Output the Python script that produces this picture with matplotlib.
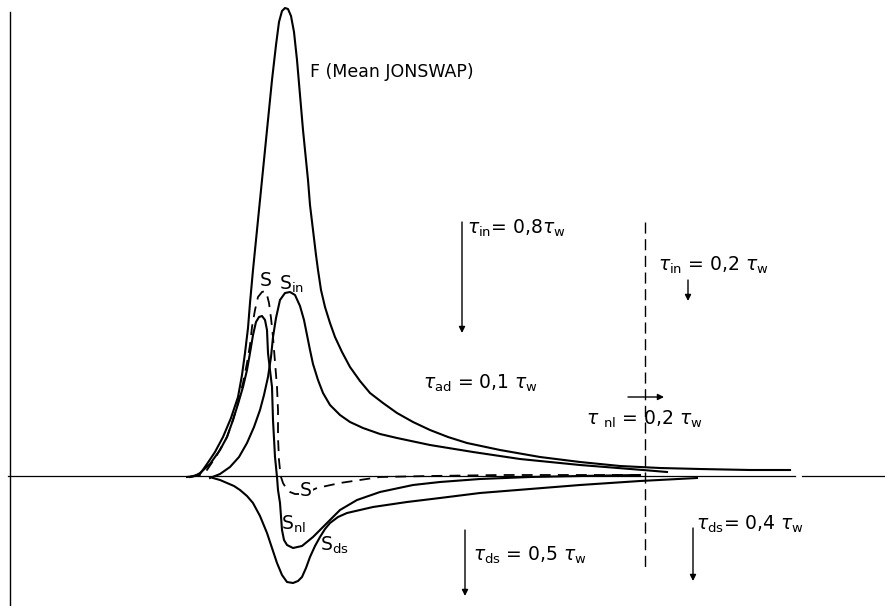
import matplotlib
matplotlib.use("Agg")
import matplotlib.pyplot as plt

f_x = [190, 200, 207, 215, 223, 231, 238, 242, 245, 248, 250, 253, 256, 260, 264, 268, 272, 276,
       279, 282, 285, 288, 291, 294, 297, 300, 303, 306, 308, 310, 313, 316, 318, 321, 325, 330,
       335, 342, 350, 360, 370, 383, 397, 413, 430, 448, 467, 500, 540, 580, 620, 660, 700, 750, 790]
f_y = [477, 474, 464, 452, 437, 418, 397, 375, 353, 328, 303, 270, 240, 200, 160, 120, 80, 45,
       22, 11, 8, 9, 16, 32, 60, 95, 130, 160, 180, 205, 230, 255, 270, 290, 307, 323,
       337, 352, 367, 381, 393, 403, 413, 422, 430, 437, 443, 450, 457, 462, 466, 468, 469, 470, 470]

sin_x = [210, 220, 230, 239, 247, 254, 260, 264, 268, 271, 273, 276, 280, 285, 290, 295, 300, 304,
         307, 310, 313, 318, 323, 330, 340, 350, 363, 380, 397, 430, 473, 520, 580, 643, 667]
sin_y = [478, 474, 467, 457, 443, 427, 410, 395, 377, 357, 337, 318, 300, 293, 292, 295, 306, 320,
         335, 350, 364, 380, 393, 405, 415, 422, 428, 434, 438, 445, 452, 459, 465, 470, 472]

snl_x = [187, 195, 200, 210, 220, 227, 233, 238, 243, 247, 250, 253, 256, 259, 262, 265, 267, 268,
         270, 272, 273, 275, 277, 278, 280, 282, 284, 287, 293, 302, 313, 327, 340, 357, 380, 413,
         440, 480, 530, 580, 640]
snl_y = [477, 476, 473, 464, 450, 437, 420, 404, 387, 370, 353, 335, 322, 317, 316, 320, 330, 353,
         370, 387, 420, 457, 477, 490, 503, 530, 540, 545, 548, 546, 537, 523, 510, 500, 492, 485,
         482, 479, 477, 476, 475]

sds_x = [213, 220, 227, 234, 240, 247, 253, 260, 267, 272, 277, 282, 287, 293, 298, 302, 306, 310,
         315, 320, 325, 330, 338, 347, 360, 373, 407, 440, 480, 530, 580, 640, 697]
sds_y = [478, 480, 483, 486, 490, 496, 503, 516, 533, 548, 563, 575, 582, 583, 581, 577, 568, 557,
         546, 537, 529, 523, 517, 513, 510, 507, 502, 498, 493, 489, 485, 481, 478]

s_x = [190, 200, 207, 217, 227, 233, 238, 243, 247, 250, 252, 255, 258, 262, 265, 267, 269, 271,
       273, 275, 277, 278, 278, 279, 280, 281, 283, 286, 290, 295, 300, 310, 317, 340, 380, 430,
       500, 580, 640]
s_y = [477, 475, 470, 455, 437, 420, 403, 383, 363, 345, 327, 310, 297, 292, 291, 295, 303, 318,
       337, 362, 387, 410, 437, 460, 470, 477, 483, 488, 492, 494, 494, 491, 488, 483, 477, 476,
       475, 475, 475]

baseline_y = 476
split_x = 645

fig = plt.figure(figsize=(8.85, 6.06), dpi=100)
ax = fig.add_axes([0, 0, 1, 1])
ax.set_xlim(0, 885)
ax.set_ylim(606, 0)
ax.axis("off")

# frame lines
ax.plot([10, 10], [12, 606], color="black", lw=1.0)
ax.plot([8, 795], [baseline_y, baseline_y], color="black", lw=0.9)
ax.plot([802, 885], [baseline_y, baseline_y], color="black", lw=0.9)

lw = 1.5
ax.plot(f_x, f_y, color="black", lw=lw)
ax.plot(sin_x, sin_y, color="black", lw=lw)
ax.plot(snl_x, snl_y, color="black", lw=lw)
ax.plot(sds_x, sds_y, color="black", lw=lw)
ax.plot(s_x, s_y, color="black", lw=1.3, dashes=(6, 4))

ax.plot([split_x, split_x], [222, 567], color="black", lw=1.0, dashes=(8, 4))

fs = 13.5
ax.text(310, 72, "F (Mean JONSWAP)", fontsize=12.5, va="center", ha="left")
ax.text(266, 280, "S", fontsize=fs, va="center", ha="center",
        bbox=dict(facecolor="white", edgecolor="none", pad=0.3))
ax.text(279, 284, r"S$_{\rm in}$", fontsize=fs, va="center", ha="left")
ax.text(306, 491, "S", fontsize=fs, va="center", ha="center",
        bbox=dict(facecolor="white", edgecolor="none", pad=0.5))
ax.text(281, 524, r"S$_{\rm nl}$", fontsize=fs, va="center", ha="left")
ax.text(320, 545, r"S$_{\rm ds}$", fontsize=fs, va="center", ha="left")

ax.text(467, 228, r"$\tau_{\rm in}$= 0,8$\tau_{\rm w}$", fontsize=fs, va="center", ha="left")
ax.text(658, 265, r"$\tau_{\rm in}$ = 0,2 $\tau_{\rm w}$", fontsize=fs, va="center", ha="left")
ax.text(423, 383, r"$\tau_{\rm ad}$ = 0,1 $\tau_{\rm w}$", fontsize=fs, va="center", ha="left")
ax.text(586, 419, r"$\tau$ $_{\rm nl}$ = 0,2 $\tau_{\rm w}$", fontsize=fs, va="center", ha="left")
ax.text(696, 524, r"$\tau_{\rm ds}$= 0,4 $\tau_{\rm w}$", fontsize=fs, va="center", ha="left")
ax.text(473, 555, r"$\tau_{\rm ds}$ = 0,5 $\tau_{\rm w}$", fontsize=fs, va="center", ha="left")

arrow = dict(arrowstyle="-|>", lw=1.0, color="black", mutation_scale=9, shrinkA=0, shrinkB=0)
ax.annotate("", xy=(462, 333), xytext=(462, 222), arrowprops=arrow)
ax.annotate("", xy=(688, 301), xytext=(688, 280), arrowprops=arrow)
ax.annotate("", xy=(664, 397), xytext=(628, 397), arrowprops=arrow)
ax.annotate("", xy=(693, 581), xytext=(693, 528), arrowprops=arrow)
ax.annotate("", xy=(465, 596), xytext=(465, 530), arrowprops=arrow)

fig.savefig("out.png", dpi=100, facecolor="white")
